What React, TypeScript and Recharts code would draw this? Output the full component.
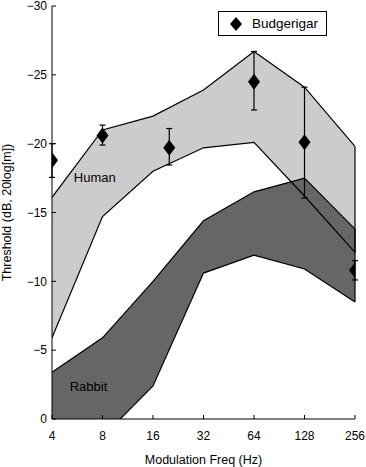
import React from 'react';
import {
  ComposedChart,
  Area,
  Scatter,
  ErrorBar,
  XAxis,
  YAxis,
  Legend,
  ReferenceLine,
  ReferenceDot
} from 'recharts';

// band edges (dB, more negative = better threshold)
const freqs = [4, 8, 16, 32, 64, 128, 256];
const humanUpper = [-16.1, -21.0, -22.0, -23.9, -26.7, -24.1, -19.8];
const humanLower = [-5.9, -14.7, -18.0, -19.7, -20.1, -16.2, -12.1];
const rabbitUpper = [-3.4, -5.9, -10.0, -14.4, -16.5, -17.5, -13.8];
const rabbitLower = [2.0, 1.3, -2.4, -10.6, -11.9, -10.9, -8.5];

// budgerigar means and error bar ends
const budgieFreq = [4, 8, 20, 64, 128, 256];
const budgieMean = [-18.8, -20.6, -19.7, -24.5, -20.1, -10.8];
const budgieTop = [-20.0, -21.35, -21.1, -26.7, -24.1, -11.5];
const budgieBottom = [-17.55, -19.9, -18.45, -22.45, -16.05, -10.1];

const xTicks = [4, 8, 16, 32, 64, 128, 256];
const yTicks = [-30, -25, -20, -15, -10, -5, 0];

// where the band names sit (freq, dB)
const bandNames = ['Human', 'Rabbit'];
const bandNameFreq = [7.2, 6.6];
const bandNameDb = [-17.55, -2.36];

const FONT = '"Liberation Sans", Arial, sans-serif';

const bandData = freqs.map((f, i) => ({
  freq: f,
  human: [humanLower[i], humanUpper[i]],
  rabbit: [rabbitLower[i], rabbitUpper[i]]
}));

const budgieData = budgieFreq.map((f, i) => {
  const lo = Math.min(budgieTop[i], budgieBottom[i]);
  const hi = Math.max(budgieTop[i], budgieBottom[i]);
  return { freq: f, value: budgieMean[i], err: [budgieMean[i] - lo, hi - budgieMean[i]] };
});

const Diamond = (props: any) => {
  const { cx, cy } = props;
  if (cx == null || cy == null) return null;
  return <polygon points={`${cx},${cy - 8} ${cx + 6},${cy} ${cx},${cy + 8} ${cx - 6},${cy}`} fill="#000" />;
};

const fmt = (v: number) => (v < 0 ? `\u2212${Math.abs(v)}` : `${v}`);

const LegendBox = () => (
  <div
    style={{
      border: '1px solid #000',
      background: '#fff',
      height: 25,
      boxSizing: 'border-box',
      display: 'flex',
      alignItems: 'center',
      fontFamily: FONT,
      fontSize: 13.5
    }}
  >
    <svg width={26} height={20} style={{ marginLeft: 5 }}>
      <polygon points="12,3 18,10 12,17 6,10" fill="#000" />
    </svg>
    <span style={{ marginLeft: 2 }}>Budgerigar</span>
  </div>
);

export default function App() {
  const last = freqs.length - 1;
  return (
    <div style={{ position: 'absolute', left: 0, top: 0, background: '#fff' }}>
      <ComposedChart
        width={366}
        height={467}
        data={bandData}
        margin={{ top: 6, right: 11, bottom: 0, left: 0 }}
      >
        <XAxis
          dataKey="freq"
          type="number"
          scale="log"
          domain={[4, 256]}
          ticks={xTicks}
          interval={0}
          allowDataOverflow
          height={48}
          tickSize={-4}
          tickMargin={16}
          tick={{ fill: '#000', fontSize: 12, fontFamily: FONT }}
          axisLine={{ stroke: '#000' }}
          tickLine={{ stroke: '#000' }}
          label={{
            value: 'Modulation Freq (Hz)',
            position: 'insideBottom',
            offset: 3,
            fontSize: 12.5,
            fontFamily: FONT,
            style: { fill: '#000' }
          }}
        />
        <YAxis
          type="number"
          domain={[-30, 0]}
          reversed
          allowDataOverflow
          ticks={yTicks}
          interval={0}
          width={52}
          tickSize={-4}
          tickMargin={9}
          tickFormatter={fmt}
          tick={{ fill: '#000', fontSize: 12, fontFamily: FONT }}
          axisLine={{ stroke: '#000' }}
          tickLine={{ stroke: '#000' }}
          label={{
            value: 'Threshold (dB, 20log[m])',
            angle: -90,
            position: 'insideLeft',
            offset: 7,
            fontSize: 12.5,
            fontFamily: FONT,
            style: { textAnchor: 'middle', fill: '#000' }
          }}
        />
        <Legend
          layout="horizontal"
          verticalAlign="middle"
          align="center"
          content={<LegendBox />}
          wrapperStyle={{ position: 'absolute', left: 218, top: 11, width: 109, height: 25 }}
        />
        {/* human fill first, rabbit on top, then human outline over both */}
        <Area type="linear" dataKey="human" fill="#cccccc" fillOpacity={1} stroke="none" isAnimationActive={false} />
        <Area type="linear" dataKey="rabbit" fill="#666666" fillOpacity={1} stroke="#000" strokeWidth={1.2} isAnimationActive={false} />
        <Area type="linear" dataKey="human" fill="none" stroke="#000" strokeWidth={1.2} isAnimationActive={false} />
        <ReferenceLine
          segment={[{ x: freqs[last], y: humanLower[last] }, { x: freqs[last], y: humanUpper[last] }]}
          stroke="#000"
          strokeWidth={1.2}
        />
        <ReferenceLine
          segment={[{ x: freqs[last], y: rabbitLower[last] }, { x: freqs[last], y: rabbitUpper[last] }]}
          stroke="#000"
          strokeWidth={1.2}
        />
        {bandNames.map((name, i) => (
          <ReferenceDot
            key={name}
            x={bandNameFreq[i]}
            y={bandNameDb[i]}
            r={0}
            fill="none"
            stroke="none"
            label={{
              value: name,
              position: 'center',
              fontSize: 13,
              fontFamily: FONT,
              style: { fill: '#000' }
            }}
          />
        ))}
        <Scatter data={budgieData} dataKey="value" shape={<Diamond />} isAnimationActive={false} legendType="diamond">
          <ErrorBar dataKey="err" direction="y" width={3} stroke="#000" strokeWidth={1.2} isAnimationActive={false} />
        </Scatter>
      </ComposedChart>
    </div>
  );
}
